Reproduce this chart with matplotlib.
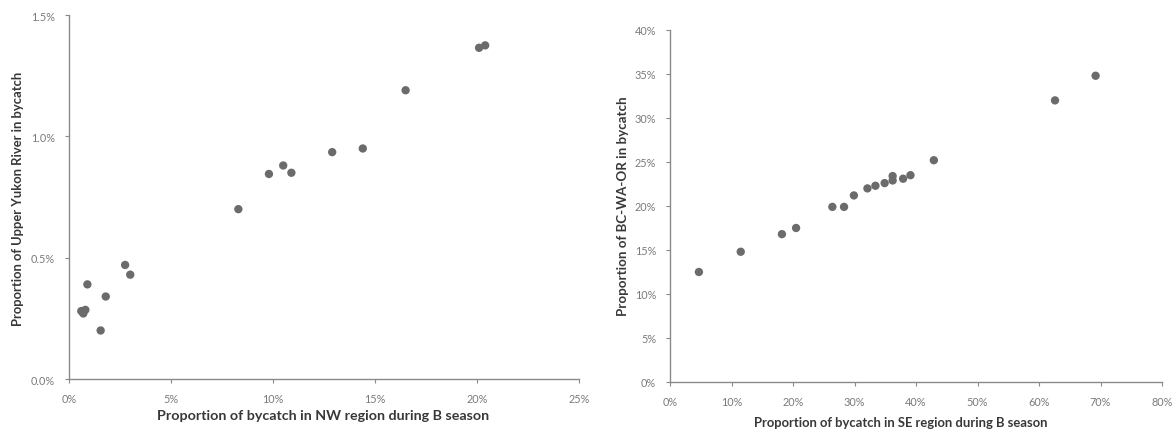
import matplotlib
matplotlib.use("Agg")
from matplotlib import pyplot as plt
from matplotlib.ticker import FuncFormatter

# NW region vs Upper Yukon River (percent)
nwBycatch = [0.6, 0.8, 0.7, 0.9, 1.55, 1.8, 2.75, 3.0, 8.3, 9.8, 10.5, 10.9, 12.9, 14.4, 16.5, 20.1, 20.4]
upperYukon = [0.28, 0.285, 0.27, 0.39, 0.20, 0.34, 0.47, 0.43, 0.70, 0.845, 0.88, 0.85, 0.935, 0.95, 1.19, 1.365, 1.375]

# SE region vs BC-WA-OR (percent)
seBycatch = [4.7, 11.5, 18.2, 20.5, 26.4, 28.3, 29.9, 32.1, 33.4, 34.9, 36.2, 36.2, 37.9, 39.1, 42.9, 62.6, 69.2]
bcWaOr = [12.5, 14.8, 16.8, 17.5, 19.9, 19.9, 21.2, 22.0, 22.3, 22.6, 22.9, 23.4, 23.1, 23.5, 25.2, 32.0, 34.8]

leftXTicks = [0, 5, 10, 15, 20, 25]
leftYTicks = [0.0, 0.5, 1.0, 1.5]
rightXTicks = [0, 10, 20, 30, 40, 50, 60, 70, 80]
rightYTicks = [0, 5, 10, 15, 20, 25, 30, 35, 40]

pointColor = '#6b6b6b'
axesColor = '#8a8a8a'
tickTextColor = '#7a7a7a'
labelColor = '#383838'

plt.rcParams['font.family'] = ['Lato', 'DejaVu Sans']

W, H = 1174, 431
fig = plt.figure(figsize=(W / 100, H / 100), dpi=100)
fig.patch.set_facecolor('white')

axLeft = fig.add_axes([0.0588, 0.1183, 0.4344, 0.8445])
axRight = fig.add_axes([0.5707, 0.1114, 0.4191, 0.8167])


def style_axes(ax, xticks, yticks, yfmt):
    ax.set_xlim(xticks[0], xticks[-1])
    ax.set_ylim(yticks[0], yticks[-1])
    ax.set_xticks(xticks)
    ax.set_yticks(yticks)
    ax.xaxis.set_major_formatter(FuncFormatter(lambda v, p: '%d%%' % v))
    ax.yaxis.set_major_formatter(FuncFormatter(yfmt))
    for side in ['top', 'right']:
        ax.spines[side].set_visible(False)
    for side in ['left', 'bottom']:
        ax.spines[side].set_color(axesColor)
        ax.spines[side].set_linewidth(1.0)
    ax.tick_params(axis='both', colors=axesColor, labelcolor=tickTextColor,
                   labelsize=7.8, length=3, width=0.8, direction='out')
    ax.tick_params(axis='x', pad=7)
    ax.tick_params(axis='y', pad=7)


def place_labels(ax, xlabel, xsize, xpos, ylabel, ysize, ypos):
    # label positions given in figure pixels, measured from the top-left corner
    ax.set_xlabel(xlabel, fontsize=xsize, fontweight='bold', color=labelColor, va='center')
    ax.xaxis.set_label_coords(xpos[0] / W, 1 - xpos[1] / H, transform=fig.transFigure)
    ax.set_ylabel(ylabel, fontsize=ysize, fontweight='bold', color=labelColor, va='center')
    ax.yaxis.set_label_coords(ypos[0] / W, 1 - ypos[1] / H, transform=fig.transFigure)


# Upper Yukon chart
axLeft.scatter(nwBycatch, upperYukon, s=36, color=pointColor, edgecolors='none', zorder=3, clip_on=False)
style_axes(axLeft, leftXTicks, leftYTicks, lambda v, p: '%.1f%%' % v)
place_labels(axLeft, 'Proportion of bycatch in NW region during B season', 10.3, (323, 416),
             'Proportion of Upper Yukon River in bycatch', 9.4, (18, 199))

# BC-WA-OR chart
axRight.scatter(seBycatch, bcWaOr, s=36, color=pointColor, edgecolors='none', zorder=3, clip_on=False)
style_axes(axRight, rightXTicks, rightYTicks, lambda v, p: '%d%%' % v)
place_labels(axRight, 'Proportion of bycatch in SE region during B season', 9.4, (901, 423),
             'Proportion of BC-WA-OR in bycatch', 9.6, (623, 206))

fig.savefig('out.png', dpi=100, facecolor='white')
